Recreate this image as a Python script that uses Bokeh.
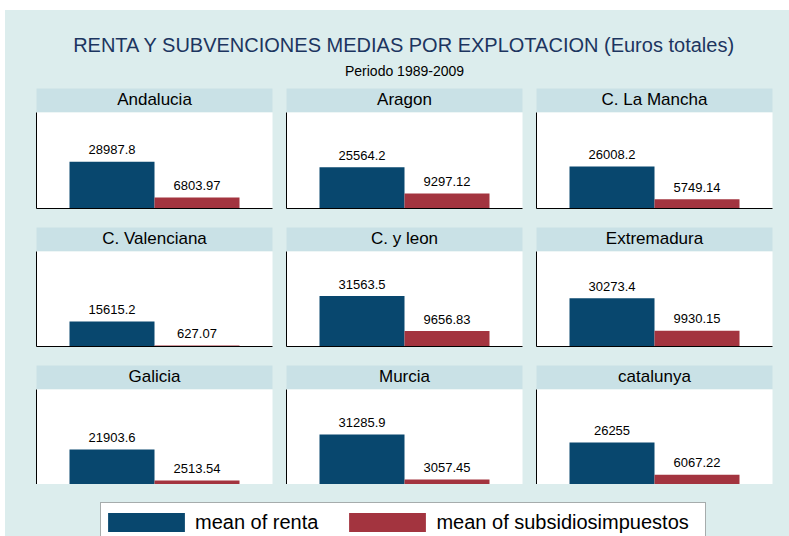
from bokeh.plotting import figure
from bokeh.layouts import column, row
from bokeh.models import Range1d, Legend, LegendItem, FixedTicker, BoxAnnotation
from bokeh.core.properties import value
from bokeh.embed import file_html
from bokeh.resources import INLINE

# ---------------- data ----------------
regions = ["Andalucia", "Aragon", "C. La Mancha",
           "C. Valenciana", "C. y leon", "Extremadura",
           "Galicia", "Murcia", "catalunya"]
renta = [28987.8, 25564.2, 26008.2, 15615.2, 31563.5, 30273.4, 21903.6, 31285.9, 26255]
subsidios = [6803.97, 9297.12, 5749.14, 627.07, 9656.83, 9930.15, 2513.54, 3057.45, 6067.22]
series = ["mean of renta", "mean of subsidiosimpuestos"]
title_text = "RENTA Y SUBVENCIONES MEDIAS POR EXPLOTACION (Euros totales)"
subtitle_text = "Periodo 1989-2009"

# ---------------- style ----------------
COLORS = ["#08476E", "#A3343F"]
BG = "#DCEDED"
HDR = "#C9E1E6"
TITLE_COLOR = "#1C3560"
FONT = "Liberation Sans"
Y_MAX = 59500

W_TOTAL = 784
FRAME_W = 236
BAR_W_PX = 85
COL_BORDERS = [(31, 7), (7, 7), (7, 17)]
HDR_H = 24
PLOT_HS = [96, 95, 95]
GAPS = [19, 19, 0]
TITLE_H = 78
LEG_H = 52


def hide_axis(ax):
    ax.ticker = FixedTicker(ticks=[])
    ax.major_tick_line_color = None
    ax.minor_tick_line_color = None
    ax.major_tick_out = 0
    ax.major_tick_in = 0
    ax.minor_tick_out = 0
    ax.minor_tick_in = 0
    ax.major_label_standoff = 0
    ax.axis_line_color = "black"
    ax.axis_line_width = 1


def base_fig(width, height, x_range, y_range, l, r, t, b, fill):
    p = figure(width=width, height=height, x_range=x_range, y_range=y_range,
               min_border_left=l, min_border_right=r, min_border_top=t, min_border_bottom=b,
               toolbar_location=None, output_backend="svg", tools="")
    p.background_fill_color = fill
    p.border_fill_color = BG
    p.outline_line_color = None
    p.grid.visible = False
    return p


# ---------------- title ----------------
tf = base_fig(W_TOTAL, TITLE_H, Range1d(0, W_TOTAL), Range1d(0, TITLE_H), 0, 0, 0, 0, BG)
tf.axis.visible = False
center_x = (COL_BORDERS[0][0] + W_TOTAL - COL_BORDERS[2][1]) / 2
tf.text(x=[center_x], y=[44], text=[title_text], text_align="center", text_baseline="alphabetic",
        text_font=value(FONT), text_font_size="20px", text_color=TITLE_COLOR)
tf.text(x=[center_x], y=[18], text=[subtitle_text], text_align="center", text_baseline="alphabetic",
        text_font=value(FONT), text_font_size="14px", text_color="black")

# ---------------- panels ----------------
n = len(series)
xs = list(range(n))
span = FRAME_W / BAR_W_PX
pad = (span - n) / 2
rows = []
for ri in range(3):
    cells = []
    for ci in range(3):
        i = ri * 3 + ci
        l, r = COL_BORDERS[ci]
        w = l + FRAME_W + r
        h = base_fig(w, HDR_H, Range1d(0, 1), Range1d(0, HDR_H), l, r, 0, 0, HDR)
        h.axis.visible = False
        h.text(x=[0.5], y=[13], text=[regions[i]], text_align="center", text_baseline="alphabetic",
               text_font=value(FONT), text_font_size="17px", text_color="black")

        p = base_fig(w, PLOT_HS[ri] + GAPS[ri],
                     Range1d(-0.5 - pad, n - 0.5 + pad),
                     Range1d(0, Y_MAX), l, r, 0, GAPS[ri], "white")
        hide_axis(p.xaxis[0])
        hide_axis(p.yaxis[0])
        tops = [renta[i], subsidios[i]]
        labels = [f"{v:g}" for v in tops]
        p.vbar(x=xs, top=tops, width=1.0, fill_color=COLORS, line_color=None)
        p.text(x=xs, y=tops, text=labels, text_align="center", text_baseline="alphabetic",
               y_offset=-12, text_font=value(FONT), text_font_size="13px", text_color="black")
        cells.append(column(h, p, spacing=0, styles={"background-color": BG}))
    rows.append(row(*cells, spacing=0, styles={"background-color": BG}))

# ---------------- legend ----------------
lf = base_fig(W_TOTAL, LEG_H, Range1d(0, W_TOTAL), Range1d(0, LEG_H), 0, 0, 0, 0, BG)
lf.axis.visible = False
box = BoxAnnotation(left=95, right=700, bottom=-20, top=34, fill_color="white", fill_alpha=1,
                    line_color="black", line_width=1, level="underlay")
lf.add_layout(box)
nan = float("nan")
r1 = lf.vbar(x=[nan], top=[nan], width=0.1, fill_color=[COLORS[0]], line_color=None)
r2 = lf.vbar(x=[nan], top=[nan], width=0.1, fill_color=[COLORS[1]], line_color=None)
legend = Legend(items=[LegendItem(label=series[0], renderers=[r1]),
                       LegendItem(label=series[1], renderers=[r2])],
                orientation="horizontal", location=(93, 2),
                glyph_width=96, glyph_height=24, label_height=24,
                label_standoff=1, spacing=21, padding=0, margin=0,
                label_text_font=FONT, label_text_font_size="20px", label_text_color="black",
                label_text_baseline="middle",
                border_line_color=None, background_fill_alpha=0)
lf.add_layout(legend, "center")

layout = column(tf, *rows, lf, spacing=0, margin=(10, 0, 0, 5),
                styles={"background-color": BG})
open("out.html", "w").write(file_html(layout, INLINE))
